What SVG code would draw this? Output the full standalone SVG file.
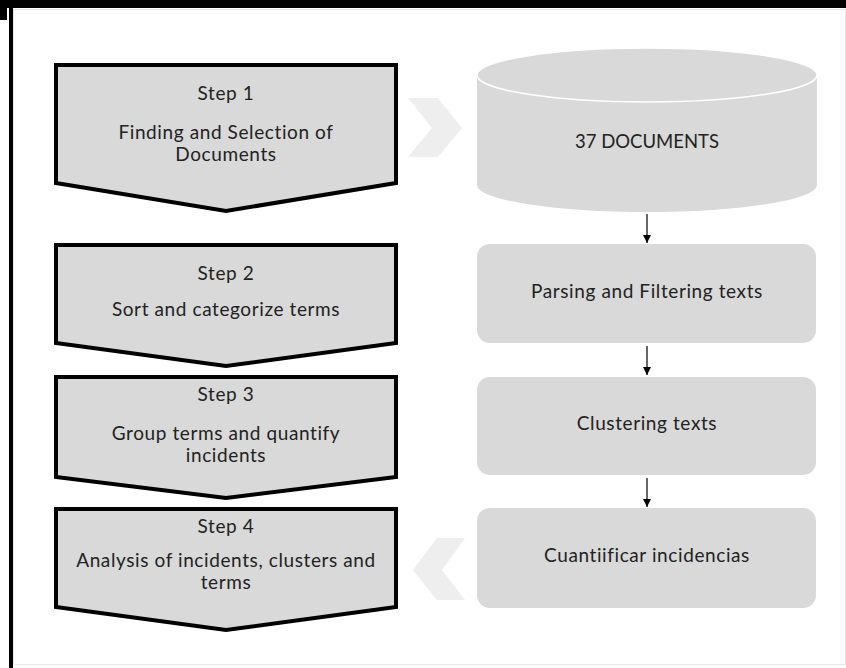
<svg xmlns="http://www.w3.org/2000/svg" width="846" height="668" viewBox="0 0 846 668">
<defs>
<marker id="ah" viewBox="0 0 10 10" refX="10" refY="5" markerWidth="8" markerHeight="8" markerUnits="userSpaceOnUse" orient="auto">
<path d="M0,0 L10,5 L0,10 Z" fill="#000"/>
</marker>
</defs>
<style>
.step{fill:#d9d9d9;stroke:#000;stroke-width:4;stroke-linejoin:miter}
.box{fill:#d9d9d9}
.chev{fill:#eeeeee}
text{font-family:Lato,"Open Sans","Liberation Sans",sans-serif;font-size:19px;letter-spacing:0.6px;fill:#222;text-anchor:middle}
.conn{stroke:#000;stroke-width:1.2;fill:none;marker-end:url(#ah)}
</style>
<rect x="0" y="0" width="846" height="668" fill="#fff"/>
<rect x="0" y="0" width="846" height="8" fill="#000"/>
<rect x="0" y="0" width="7" height="20" fill="#000"/>
<rect x="9" y="0" width="4" height="668" fill="#000"/>
<rect x="13.5" y="9.5" width="832" height="655" fill="none" stroke="#e8e8e8" stroke-width="1"/>

<g id="step1">
<path class="step" d="M56,65 H396 V183 L226,211 L56,183 Z"/>
<text x="226" y="100">Step 1</text>
<text x="226" y="139">Finding and Selection of</text>
<text x="226" y="161">Documents</text>
</g>
<g id="step2">
<path class="step" d="M56,245 H396 V343 L226,366 L56,343 Z"/>
<text x="226" y="280">Step 2</text>
<text x="226" y="316">Sort and categorize terms</text>
</g>
<g id="step3">
<path class="step" d="M56,377 H396 V477 L226,498 L56,477 Z"/>
<text x="226" y="401">Step 3</text>
<text x="226" y="440">Group terms and quantify</text>
<text x="226" y="462">incidents</text>
</g>
<g id="step4">
<path class="step" d="M56,509 H396 V607 L226,630 L56,607 Z"/>
<text x="226" y="533">Step 4</text>
<text x="226" y="567">Analysis of incidents, clusters and</text>
<text x="226" y="589">terms</text>
</g>

<g id="chevron-right">
<path class="chev" d="M408,98 L438,98 L462,128 L438,157 L408,157 L432,128 Z"/>
</g>
<g id="chevron-left">
<path class="chev" d="M465,538 L437,538 L413,570 L437,600 L465,600 L442,570 Z"/>
</g>

<g id="documents">
<path class="box" d="M477,75 A170,27 0 0 1 817,75 V185 A170,27 0 0 1 477,185 Z"/>
<ellipse cx="647" cy="75" rx="170" ry="27" fill="#d9d9d9" stroke="#fff" stroke-width="1.5"/>
<text x="647" y="148" style="font-size:18.5px;letter-spacing:0">37 DOCUMENTS</text>
</g>
<g id="parsing">
<rect class="box" x="477" y="244" width="339" height="99" rx="13"/>
<text x="647" y="298">Parsing and Filtering texts</text>
</g>
<g id="clustering">
<rect class="box" x="477" y="377" width="339" height="98" rx="13"/>
<text x="647" y="430">Clustering texts</text>
</g>
<g id="cuantificar">
<rect class="box" x="477" y="508" width="339" height="100" rx="13"/>
<text x="647" y="562">Cuantiificar incidencias</text>
</g>

<g id="connectors">
<line class="conn" x1="647" y1="214" x2="647" y2="243"/>
<line class="conn" x1="647" y1="346" x2="647" y2="375"/>
<line class="conn" x1="647" y1="478" x2="647" y2="507"/>
</g>
</svg>
